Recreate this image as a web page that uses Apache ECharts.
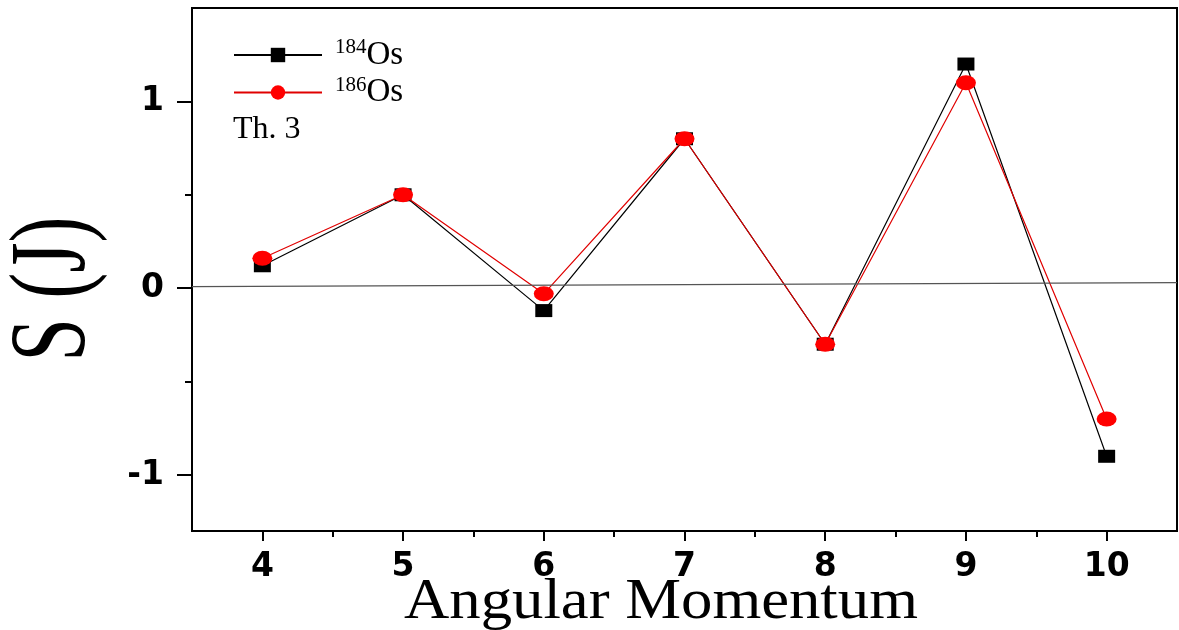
<!DOCTYPE html>
<html>
<head>
<meta charset="utf-8">
<script src="https://cdn.jsdelivr.net/npm/echarts@6/dist/echarts.min.js"></script>
<style>
  html, body { margin: 0; padding: 0; background: #fff; }
  #chart { width: 1179px; height: 630px; }
</style>
</head>
<body>
<div id="chart"></div>
<script>
// Angular momentum values J
const angularMomentum = [4, 5, 6, 7, 8, 9, 10];
// S(J) staggering for the two isotopes
const s184Os = [0.12, 0.5, -0.12, 0.8, -0.3, 1.2, -0.9];
const s186Os = [0.16, 0.5, -0.03, 0.8, -0.3, 1.1, -0.7];
const seriesNames = ['184Os', '186Os'];
// Axis ticks
const xMajorTicks = [4, 5, 6, 7, 8, 9, 10];
const xMinorTicks = [4.5, 5.5, 6.5, 7.5, 8.5, 9.5];
const yMajorTicks = [-1, 0, 1];
const yMinorTicks = [-0.5, 0.5];
// Reference line near S = 0
const baseline = [[3.5, 0.008], [10.5, 0.03]];

const pairs = (ys) => angularMomentum.map((x, i) => [x, ys[i]]);

const chart = echarts.init(document.getElementById('chart'), null, { renderer: 'canvas' });

const tickFont = { fontFamily: 'DejaVu Sans', fontWeight: 'bold', fontSize: 33, color: '#000' };

chart.setOption({
  backgroundColor: '#fff',
  animation: false,
  grid: {
    left: 192, right: 2, top: 8, bottom: 99,
    show: true, borderColor: '#000', borderWidth: 2, backgroundColor: 'transparent'
  },
  xAxis: [
    {
      type: 'value', min: 3.5, max: 10.5,
      axisLine: { show: true, onZero: false, lineStyle: { color: '#000', width: 2 } },
      axisTick: { show: true, customValues: xMajorTicks, length: 10, lineStyle: { color: '#000', width: 2 } },
      axisLabel: Object.assign({ customValues: xMajorTicks, margin: 20 }, tickFont),
      splitLine: { show: false }
    },
    {
      type: 'value', min: 3.5, max: 10.5, position: 'bottom',
      axisLine: { show: false, onZero: false },
      axisTick: { show: true, customValues: xMinorTicks, length: 6, lineStyle: { color: '#000', width: 2 } },
      axisLabel: { show: false },
      splitLine: { show: false }
    }
  ],
  yAxis: [
    {
      type: 'value', min: -1.3, max: 1.5,
      axisLine: { show: true, onZero: false, lineStyle: { color: '#000', width: 2 } },
      axisTick: { show: true, customValues: yMajorTicks, length: 15, lineStyle: { color: '#000', width: 2 } },
      axisLabel: Object.assign({ customValues: yMajorTicks, margin: 28 }, tickFont),
      splitLine: { show: false }
    },
    {
      type: 'value', min: -1.3, max: 1.5, position: 'left',
      axisLine: { show: false, onZero: false },
      axisTick: { show: true, customValues: yMinorTicks, length: 7, lineStyle: { color: '#000', width: 2 } },
      axisLabel: { show: false },
      splitLine: { show: false }
    }
  ],
  legend: {
    orient: 'vertical',
    left: 228, top: 32,
    itemWidth: 88, itemHeight: 18, itemGap: 3,
    data: seriesNames,
    formatter: (name) => '{s|' + name.slice(0, 3) + '}{m|' + name.slice(3) + '}',
    textStyle: {
      padding: [0, 0, 0, 8],
      rich: {
        s: { fontFamily: 'Liberation Serif', fontSize: 21, color: '#000', verticalAlign: 'top', lineHeight: 36 },
        m: { fontFamily: 'Liberation Serif', fontSize: 33, color: '#000', lineHeight: 36 }
      }
    }
  },
  series: [
    {
      name: seriesNames[0], type: 'line', xAxisIndex: 0, yAxisIndex: 0,
      data: pairs(s184Os),
      symbol: 'rect', symbolSize: [17, 13],
      itemStyle: { color: '#000' },
      lineStyle: { color: '#000', width: 1.2 },
      markLine: {
        silent: true, symbol: 'none', label: { show: false },
        lineStyle: { color: '#555', width: 1.2, type: 'solid' },
        data: [[{ coord: baseline[0] }, { coord: baseline[1] }]]
      },
      z: 3
    },
    {
      name: seriesNames[1], type: 'line', xAxisIndex: 0, yAxisIndex: 0,
      data: pairs(s186Os),
      symbol: 'circle', symbolSize: [20, 15],
      itemStyle: { color: '#ff0000' },
      lineStyle: { color: '#e00000', width: 1.2 },
      z: 4
    }
  ],
  graphic: [
    {
      type: 'text', x: 661, y: 603, scaleX: 1.12,
      style: { text: 'Angular Momentum', font: '56px "Liberation Serif"', fill: '#000', textAlign: 'center', textVerticalAlign: 'middle' }
    },
    {
      type: 'text', x: 56, y: 289, rotation: Math.PI / 2, scaleY: 1.38,
      style: { text: 'S (J)', font: '78px "Liberation Serif"', fill: '#000', textAlign: 'center', textVerticalAlign: 'middle' }
    },
    {
      type: 'text', x: 233, y: 130,
      style: { text: 'Th. 3', font: '32px "Liberation Serif"', fill: '#000', textAlign: 'left', textVerticalAlign: 'middle' }
    }
  ]
});
</script>
</body>
</html>
